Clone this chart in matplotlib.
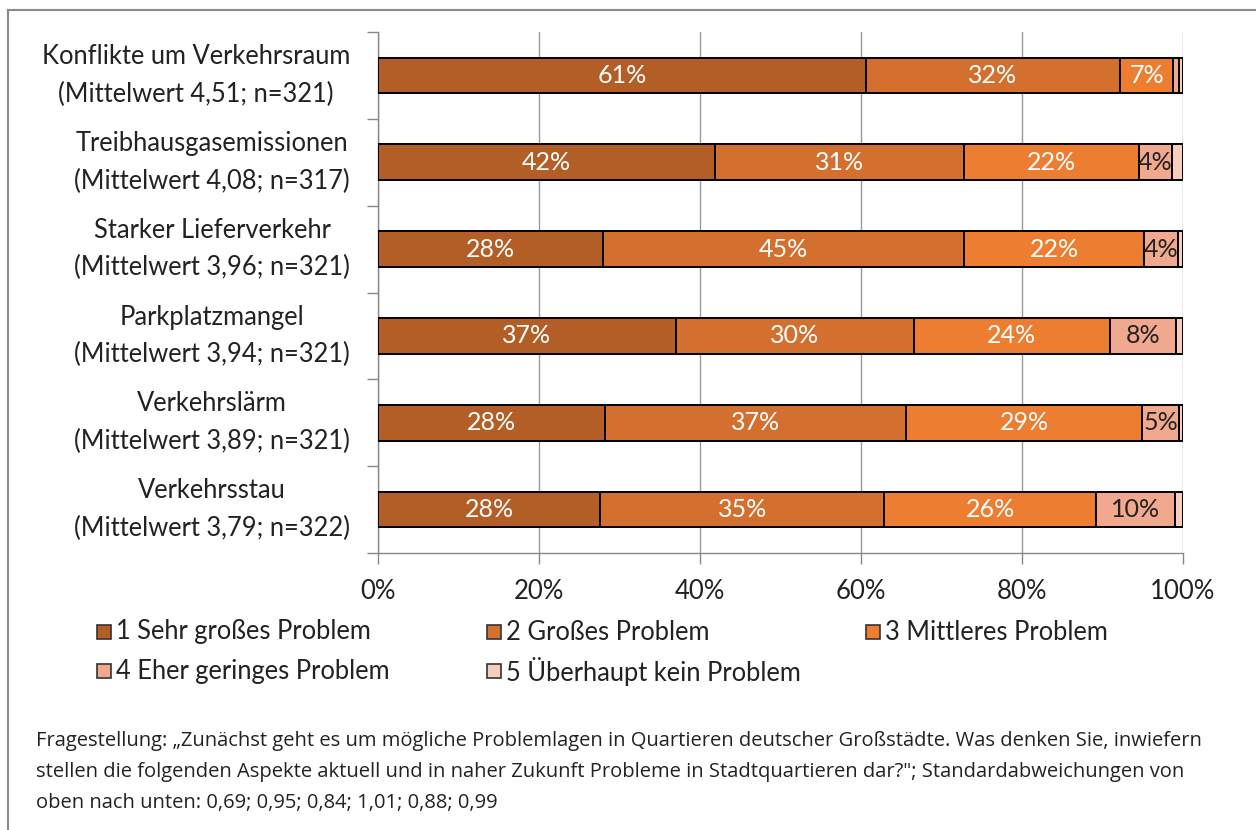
import numpy as np
import matplotlib
matplotlib.use("Agg")
import matplotlib.pyplot as plt
import matplotlib.transforms as mtransforms
from matplotlib.lines import Line2D
from matplotlib.patches import Rectangle

plt.rcParams['font.family'] = ['Lato', 'DejaVu Sans']

# --- data ---
categories = [
    "Konflikte um Verkehrsraum\n(Mittelwert 4,51; n=321)",
    "Treibhausgasemissionen\n(Mittelwert 4,08; n=317)",
    "Starker Lieferverkehr\n(Mittelwert 3,96; n=321)",
    "Parkplatzmangel\n(Mittelwert 3,94; n=321)",
    "Verkehrslärm\n(Mittelwert 3,89; n=321)",
    "Verkehrsstau\n(Mittelwert 3,79; n=322)",
]
series_names = ["1 Sehr großes Problem", "2 Großes Problem", "3 Mittleres Problem",
                "4 Eher geringes Problem", "5 Überhaupt kein Problem"]
s1 = [60.6, 41.9, 28.0, 37.0, 28.2, 27.6]
s2 = [31.6, 30.9, 44.8, 29.6, 37.4, 35.3]
s3 = [6.6, 21.7, 22.4, 24.3, 29.3, 26.3]
s4 = [0.7, 4.1, 4.2, 8.2, 4.6, 9.8]
s5 = [0.5, 1.4, 0.6, 0.9, 0.5, 1.0]
series = [s1, s2, s3, s4, s5]
xticks = [0, 20, 40, 60, 80, 100]
footnote = ("Fragestellung: „Zunächst geht es um mögliche Problemlagen in Quartieren deutscher Großstädte. "
            "Was denken Sie, inwiefern\nstellen die folgenden Aspekte aktuell und in naher Zukunft Probleme "
            "in Stadtquartieren dar?\"; Standardabweichungen von\noben nach unten: 0,69; 0,95; 0,84; 1,01; 0,88; 0,99")

colors = ["#B25E26", "#D37030", "#ED7D31", "#F0A88E", "#F7CDBF"]
text_colors = ["white", "white", "white", "#222222", "#222222"]

W, H = 1256, 830
fig = plt.figure(figsize=(W / 100, H / 100), dpi=100)
ax = fig.add_axes([378 / W, 1 - 553 / H, 805 / W, 521 / H])

y = np.arange(len(categories))
left = np.zeros(len(categories))
for vals, col, tcol in zip(series, colors, text_colors):
    vals = np.array(vals)
    bars = ax.barh(y, vals, left=left, height=0.41, color=col, edgecolor="black",
                   linewidth=1.4, zorder=3)
    for b, v in zip(bars, vals):
        if v >= 3:
            ax.text(b.get_x() + b.get_width() / 2, b.get_y() + b.get_height() / 2,
                    f"{round(v)}%", ha="center", va="center", color=tcol,
                    fontsize=18, zorder=4)
    left += vals

ax.set_xlim(0, 100)
ax.set_ylim(len(categories) - 0.5, -0.5)
ax.set_xticks(xticks)
ax.set_xticklabels([f"{t}%" for t in xticks], fontsize=18.5, color="#222222")

# category labels: right edge ~28px left of the axis, centred on the bars
ax.set_yticks(y)
ax.set_yticklabels([])
lab_tr = mtransforms.blended_transform_factory(ax.transAxes, ax.transData)
for yi, cat in zip(y, categories):
    ax.text(-28 / 805, yi, cat, transform=lab_tr, ha="right", va="center",
            multialignment="center", fontsize=18.4, color="#222222", linespacing=1.62)

ax.set_yticks(np.arange(-0.5, len(categories)), minor=True)
ax.tick_params(axis="y", which="major", length=0)
ax.tick_params(axis="y", which="minor", length=8, color="#888888", width=1)
ax.tick_params(axis="x", length=8, color="#888888", width=1, pad=11)

ax.grid(axis="x", color="#999999", linewidth=1, zorder=0)
for s in ["top", "right"]:
    ax.spines[s].set_visible(False)
for s in ["left", "bottom"]:
    ax.spines[s].set_color("#888888")
    ax.spines[s].set_linewidth(1)

# legend, laid out like the original (row-major, three columns)
leg_pos = [(97, 632), (487, 632), (866, 632), (97, 671), (487, 671)]
for (px, py), name, col in zip(leg_pos, series_names, colors):
    fig.patches.append(Rectangle((px / W, 1 - (py + 7) / H), 14 / W, 14 / H,
                                 transform=fig.transFigure, facecolor=col,
                                 edgecolor="#333333", linewidth=1.2))
    fig.text((px + 19) / W, 1 - py / H, name, fontsize=18.4, va="center", color="#222222")

fig.text(36 / W, 1 - 731 / H, footnote, fontsize=14.5, family=["Open Sans", "DejaVu Sans"],
         va="top", linespacing=1.72, color="#222222")

# frame
fig.add_artist(Line2D([8 / W, 1], [1 - 10 / H, 1 - 10 / H], color="#8a8a8a", linewidth=1.5))
fig.add_artist(Line2D([8 / W, 8 / W], [0, 1 - 10 / H], color="#8a8a8a", linewidth=1.5))

fig.savefig("out.png", dpi=100, facecolor="white")
